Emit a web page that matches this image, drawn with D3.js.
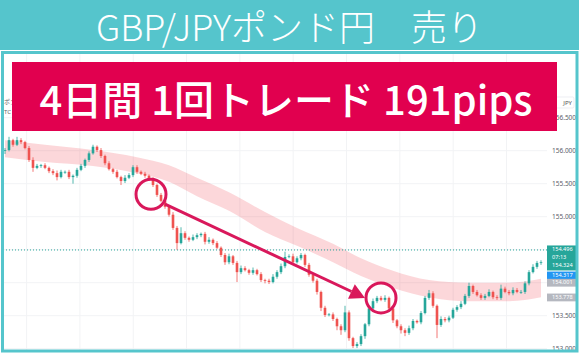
<!DOCTYPE HTML>
<html lang="ja">
<head>
<meta charset="UTF-8">
<title>GBP/JPY</title>
<script src="https://d3js.org/d3.v7.min.js"></script>
<style>
    body { margin: 0; background: #fff; }
    svg { display: block; }
    .px text { font: 6.5px "Noto Sans", sans-serif; fill: #5d606b; }
</style>
</head>
<body>
<div id="chart"></div>
<script>
    const title = "GBP/JPYポンド円　売り";
    const banner = "4日間 1回トレード 191pips";

    // closes per bar (JPY), open = previous close
    const firstOpen = 156.00;
    const closes = [156.01,156.16,156.09,156.16,156.13,156.04,155.86,155.74,155.77,155.78,
        155.74,155.69,155.66,155.60,155.68,155.68,155.60,155.62,155.71,155.77,
        155.86,155.96,156.06,156.01,155.92,155.81,155.72,155.68,155.60,155.54,
        155.59,155.63,155.75,155.68,155.65,155.62,155.57,155.48,155.33,155.24,
        155.15,155.03,154.83,154.60,154.75,154.68,154.65,154.69,154.72,154.74,
        154.62,154.65,154.60,154.53,154.42,154.31,154.40,154.30,154.16,154.22,
        154.19,154.15,154.19,154.13,154.04,154.03,154.01,154.09,154.16,154.25,
        154.39,154.40,154.31,154.37,154.42,154.27,154.12,154.03,153.86,153.62,
        153.51,153.52,153.45,153.34,153.28,153.55,153.16,153.04,153.07,153.19,
        153.37,153.61,153.72,153.77,153.74,153.77,153.61,153.43,153.34,153.28,
        153.24,153.31,153.42,153.40,153.54,153.77,153.84,153.65,153.36,153.45,
        153.43,153.47,153.59,153.63,153.68,153.80,153.95,153.86,153.81,153.77,
        153.80,153.86,153.78,153.77,153.91,153.86,153.84,153.89,153.86,153.86,
        153.99,154.16,154.24,154.30,154.31];

    // wick lengths in pips above / below the body
    const upWick = [3,5,2,5,3,2,3,4,3,2, 3,2,3,4,3,2,3,2,3,3, 2,3,3,2,3,2,3,2,3,2,
        4,3,3,3,2,3,2,3,2,3, 3,2,4,3,9,3,2,4,3,2, 3,4,2,3,2,3,4,2,3,4,
        3,2,4,2,3,2,3,4,3,4, 8,3,4,3,3,2,3,2,3,2, 3,2,3,2,3,10,3,2,3,3,
        2,3,4,3,3,4,2,3,2,3, 3,4,3,2,3,3,5,3,2,4, 3,3,3,3,4,3,5,2,3,3,
        3,4,2,3,6,3,3,4,3,3, 3,3,4,3,3];
    const dnWick = [5,2,3,2,3,2,3,6,2,3, 2,3,3,5,2,3,3,10,3,2, 3,3,2,3,3,3,2,3,2,6,
        3,2,3,3,2,3,2,3,3,2, 3,3,3,10,2,3,3,2,3,3, 4,3,3,2,3,4,3,3,15,3,
        2,3,3,2,3,4,3,2,3,3, 3,2,3,2,3,3,3,3,4,5, 3,2,3,6,7,3,4,3,3,3,
        4,3,2,3,2,3,3,4,3,5, 5,3,3,2,3,2,3,3,20,3, 3,3,2,3,3,2,3,3,2,3,
        3,2,3,3,3,2,3,3,2,3, 3,3,2,3,3];

    // moving-average band, sampled at bar indices
    const bandIdx = [0,10,22,33,41,48,56,65,73,82,89,97,106,116,126,134];
    const bandTop = [156.16,156.09,156.01,155.90,155.78,155.59,155.37,155.07,154.83,154.59,154.37,154.18,154.04,154.00,154.00,154.06];
    const bandBot = [155.90,155.83,155.77,155.66,155.53,155.31,155.09,154.77,154.56,154.31,154.10,153.92,153.78,153.72,153.72,153.78];

    const priceTicks = [153.0,153.5,154.0,154.5,155.0,155.5,156.0,156.5];
    // 154.000 and 154.500 are hidden behind the price boxes
    const priceLabels = [153.0,153.5,155.0,155.5,156.0,156.5];
    const lastPrice = 154.496;

    // trade: entry / exit
    const entry = {i: 36.5, p: 155.34};
    const exit = {i: 94, p: 153.77};
    const arrowFrom = {i: 40, p: 155.19};
    const arrowTo = {i: 90, p: 153.77};

    const W = 579, H = 353;
    const teal = "#55c5cc", red = "#e1004f", mark = "#d9185b";
    const upCol = "#26a69a", dnCol = "#ef5350";

    const svg = d3.select("#chart").append("svg").attr("width", W).attr("height", H);

    const x = d3.scaleLinear().domain([0, closes.length - 1]).range([5, 541]);
    const y = d3.scaleLinear().domain([153, 155]).range([348.7, 216.7]);

    const bars = closes.map((c, i) => {
        const o = i === 0 ? firstOpen : closes[i - 1];
        return {i, o, c, h: Math.max(o, c) + upWick[i] / 100, l: Math.min(o, c) - dnWick[i] / 100};
    });

    svg.append("defs").append("clipPath").attr("id", "plot")
        .append("rect").attr("x", 3).attr("y", 53).attr("width", 544).attr("height", 297);

    const plot = svg.append("g").attr("clip-path", "url(#plot)");

    // grid
    plot.selectAll("line.hg").data(priceTicks).enter().append("line")
        .attr("x1", 3).attr("x2", 547)
        .attr("y1", d => y(d)).attr("y2", d => y(d))
        .attr("stroke", "#f2f3f5").attr("stroke-width", 1);
    plot.selectAll("line.vg").data(d3.range(0, 10)).enter().append("line")
        .attr("x1", d => x(5.4 + d * 13.33)).attr("x2", d => x(5.4 + d * 13.33))
        .attr("y1", 53).attr("y2", 350)
        .attr("stroke", "#f2f3f5").attr("stroke-width", 1);

    // band
    const band = bandIdx.map((d, k) => ({i: d, t: bandTop[k], b: bandBot[k]}));
    plot.append("path").datum(band)
        .attr("fill", "rgba(242, 54, 69, 0.2)")
        .attr("d", d3.area().curve(d3.curveMonotoneX)
            .x(d => x(d.i)).y0(d => y(d.b)).y1(d => y(d.t)));

    // last price line
    plot.append("line")
        .attr("x1", 3).attr("x2", 547)
        .attr("y1", y(lastPrice)).attr("y2", y(lastPrice))
        .attr("stroke", upCol).attr("stroke-width", 1).attr("stroke-dasharray", "1,2");

    // candles
    const cg = plot.selectAll("g.bar").data(bars).enter().append("g")
        .attr("fill", d => d.c >= d.o ? upCol : dnCol)
        .attr("stroke", d => d.c >= d.o ? upCol : dnCol);
    cg.append("line")
        .attr("x1", d => x(d.i)).attr("x2", d => x(d.i))
        .attr("y1", d => y(d.h)).attr("y2", d => y(d.l))
        .attr("stroke-width", 0.8);
    cg.append("rect")
        .attr("x", d => x(d.i) - 1.3).attr("width", 2.6)
        .attr("y", d => y(Math.max(d.o, d.c)))
        .attr("height", d => Math.max(0.8, Math.abs(y(d.o) - y(d.c))))
        .attr("stroke", "none");

    // annotations
    svg.append("circle").attr("cx", x(entry.i)).attr("cy", y(entry.p)).attr("r", 15)
        .attr("fill", "none").attr("stroke", mark).attr("stroke-width", 3);
    svg.append("circle").attr("cx", x(exit.i)).attr("cy", y(exit.p)).attr("r", 15)
        .attr("fill", "none").attr("stroke", mark).attr("stroke-width", 3);

    const ax0 = x(arrowFrom.i), ay0 = y(arrowFrom.p), ax1 = x(arrowTo.i), ay1 = y(arrowTo.p);
    const ang = Math.atan2(ay1 - ay0, ax1 - ax0);
    const headL = 15, headW = 8;
    const bx = ax1 - headL * Math.cos(ang), by = ay1 - headL * Math.sin(ang);
    svg.append("line").attr("x1", ax0).attr("y1", ay0).attr("x2", bx).attr("y2", by)
        .attr("stroke", mark).attr("stroke-width", 3);
    svg.append("path")
        .attr("d", `M${ax1},${ay1}L${bx - headW * Math.sin(ang)},${by + headW * Math.cos(ang)}L${bx + headW * Math.sin(ang)},${by - headW * Math.cos(ang)}Z`)
        .attr("fill", mark);

    // price scale
    svg.append("g").attr("class", "px")
        .attr("transform", "translate(552,0)")
        .call(d3.axisRight(y).tickValues(priceLabels).tickFormat(d3.format(".3f")).tickSize(0).tickPadding(0))
        .call(g => g.select(".domain").remove());

    const boxes = [
        {v: lastPrice, dy: -4.5, h: 25, fill: upCol, rows: ["154.496", "07:13", "154.324"]},
        {v: 154.317, dy: 9.8, h: 7.5, fill: "#2196f3", rows: ["154.317"]},
        {v: 154.001, dy: -3.8, h: 7.8, fill: "#b5b8c0", rows: ["154.001"]},
        {v: 153.778, dy: -3.8, h: 7.8, fill: "#b5b8c0", rows: ["153.778"]}
    ];
    const bg = svg.selectAll("g.box").data(boxes).enter().append("g");
    bg.append("rect").attr("x", 547).attr("width", 30)
        .attr("y", d => y(d.v) + d.dy).attr("height", d => d.h)
        .attr("fill", d => d.fill);
    bg.each(function (d) {
        d3.select(this).selectAll("text").data(d.rows).enter().append("text")
            .attr("x", 552).attr("y", (r, k) => y(d.v) + d.dy + 5.6 + k * 8)
            .attr("fill", "#fff").style("font", "5.6px 'Noto Sans', sans-serif")
            .text(r => r);
    });

    svg.append("rect").attr("x", 551).attr("y", 97).attr("width", 23).attr("height", 11)
        .attr("rx", 1.5).attr("fill", "#fff").attr("stroke", "#e0e3eb").attr("stroke-width", 0.6);
    svg.append("text").attr("x", 572).attr("y", 105).attr("text-anchor", "end")
        .style("font", "6px 'Noto Sans', sans-serif").attr("fill", "#555").text("JPY");
    svg.append("text").attr("x", 4).attr("y", 104).style("font", "6px 'Noto Sans CJK JP', sans-serif")
        .attr("fill", "#666").text("ポン");
    svg.append("text").attr("x", 4).attr("y", 114).style("font", "6px 'Noto Sans', sans-serif")
        .attr("fill", "#666").text("TC");

    // header and frame
    svg.append("rect").attr("x", 0).attr("y", 0).attr("width", W).attr("height", 50).attr("fill", teal);
    svg.append("text").attr("x", W / 2).attr("y", 41).attr("text-anchor", "middle")
        .style("font", "300 36px 'Noto Sans CJK JP', sans-serif").attr("fill", "#fff")
        .text(title);
    svg.append("rect").attr("x", 2.5).attr("y", 52.5).attr("width", 574.5).attr("height", 298.5)
        .attr("fill", "none").attr("stroke", teal).attr("stroke-width", 3);

    // banner
    svg.append("rect").attr("x", 12).attr("y", 62).attr("width", 545).attr("height", 69).attr("fill", red);
    svg.append("text").attr("x", 286).attr("y", 115).attr("text-anchor", "middle")
        .style("font", "500 40px 'Noto Sans CJK JP', sans-serif").attr("fill", "#fff")
        .text(banner);
</script>
</body>
</html>
